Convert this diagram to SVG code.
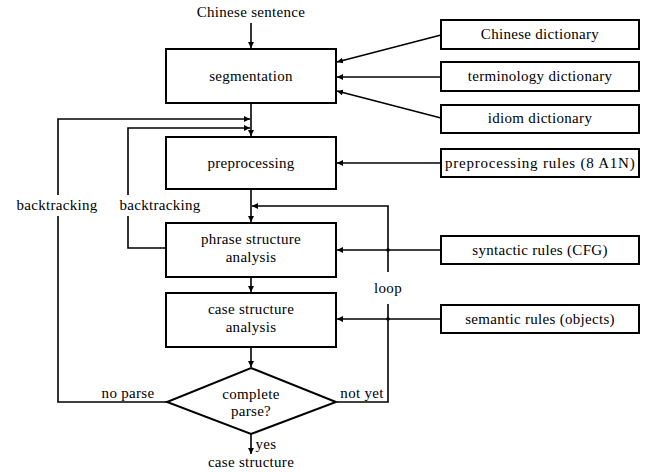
<svg xmlns="http://www.w3.org/2000/svg" width="647" height="472" viewBox="0 0 647 472">
<style>
.box{fill:#fff;stroke:#000;stroke-width:2}
.ln{fill:none;stroke:#000;stroke-width:1.6}
text{font-family:"Liberation Serif","Times New Roman",serif;font-size:15px;fill:#000;text-anchor:middle;letter-spacing:0.3px}
</style>
<defs>
<marker id="ar" viewBox="0 0 10 10" refX="10" refY="5" markerWidth="6" markerHeight="6" markerUnits="userSpaceOnUse" orient="auto">
<path d="M0,0 L10,5 L0,10 z" fill="#000"/>
</marker>
</defs>
<rect width="647" height="472" fill="#fff"/>
<g id="connectors">
<text x="251" y="17">Chinese sentence</text>
<path class="ln" d="M251,23 V48" marker-end="url(#ar)"/>
<path class="ln" d="M251,103 V136" marker-end="url(#ar)"/>
<path class="ln" d="M251,189 V222" marker-end="url(#ar)"/>
<path class="ln" d="M251,277 V292" marker-end="url(#ar)"/>
<path class="ln" d="M251,347 V367" marker-end="url(#ar)"/>
<path class="ln" d="M251,434 V454" marker-end="url(#ar)"/>
<text x="266" y="449">yes</text>
<text x="251" y="467">case structure</text>
<path class="ln" d="M441,35 L337,62" marker-end="url(#ar)"/>
<path class="ln" d="M441,77 H337" marker-end="url(#ar)"/>
<path class="ln" d="M441,118 L337,91" marker-end="url(#ar)"/>
<path class="ln" d="M441,163 H337" marker-end="url(#ar)"/>
<path class="ln" d="M441,250 H337" marker-end="url(#ar)"/>
<path class="ln" d="M441,319 H337" marker-end="url(#ar)"/>
<circle cx="388" cy="250" r="1.8"/>
<circle cx="388" cy="319" r="1.8"/>
<path class="ln" d="M337,402 H388 V304"/>
<path class="ln" d="M388,272 V206 H252" marker-end="url(#ar)"/>
<text x="388" y="293">loop</text>
<text x="362" y="398">not yet</text>
<path class="ln" d="M167,402 H58 V216"/>
<path class="ln" d="M58,195 V119 H250" marker-end="url(#ar)"/>
<text x="57" y="210">backtracking</text>
<text x="128" y="398">no parse</text>
<path class="ln" d="M166,248 H128 V216"/>
<path class="ln" d="M128,195 V128 H250" marker-end="url(#ar)"/>
<text x="160" y="210">backtracking</text>
</g>
<g id="segmentation"><rect class="box" x="166" y="49" width="170" height="54"/><text x="251" y="81">segmentation</text></g>
<g id="preprocessing"><rect class="box" x="166" y="137" width="170" height="52"/><text x="251" y="168">preprocessing</text></g>
<g id="phrase"><rect class="box" x="166" y="223" width="170" height="54"/><text x="251" y="244">phrase structure</text><text x="251" y="262">analysis</text></g>
<g id="case"><rect class="box" x="166" y="293" width="170" height="54"/><text x="251" y="314">case structure</text><text x="251" y="332">analysis</text></g>
<g id="decision"><path class="box" d="M251,368 L336,402 L251,434 L167,402 Z"/><text x="251" y="399">complete</text><text x="251" y="416">parse?</text></g>
<g id="chinese-dict"><rect class="box" x="441" y="20" width="198" height="29"/><text x="540" y="39">Chinese dictionary</text></g>
<g id="term-dict"><rect class="box" x="441" y="62" width="198" height="29"/><text x="540" y="81">terminology dictionary</text></g>
<g id="idiom-dict"><rect class="box" x="441" y="105" width="198" height="28"/><text x="540" y="123">idiom dictionary</text></g>
<g id="prep-rules"><rect class="box" x="441" y="149" width="198" height="28"/><text x="540" y="168" textLength="190" lengthAdjust="spacing">preprocessing rules (8 A1N)</text></g>
<g id="syn-rules"><rect class="box" x="441" y="236" width="198" height="28"/><text x="540" y="255">syntactic rules (CFG)</text></g>
<g id="sem-rules"><rect class="box" x="441" y="305" width="198" height="28"/><text x="540" y="324">semantic rules (objects)</text></g>
</svg>
